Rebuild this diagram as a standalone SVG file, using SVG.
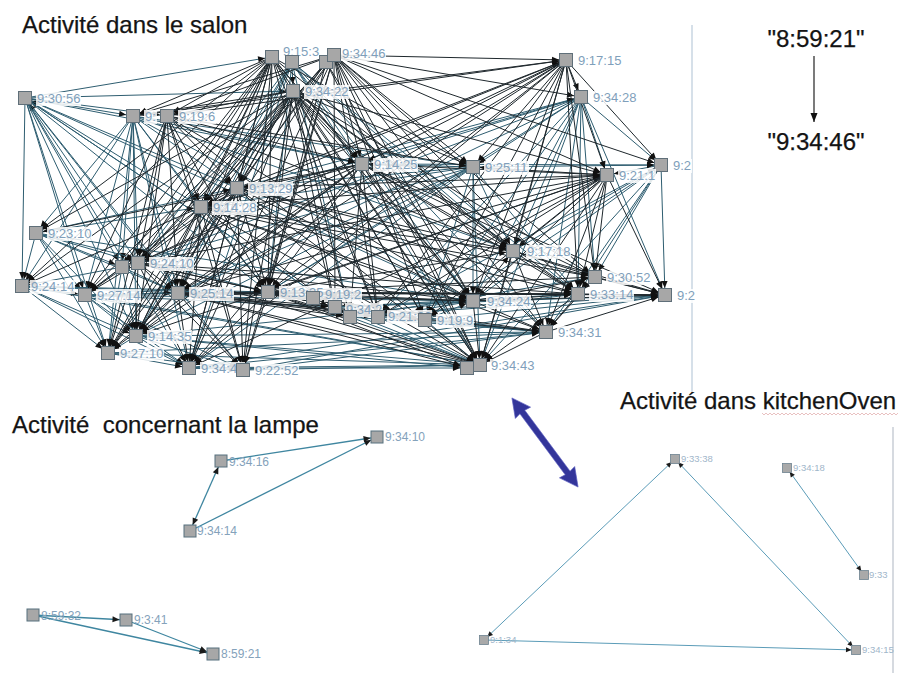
<svg xmlns="http://www.w3.org/2000/svg" width="898" height="673" viewBox="0 0 898 673">
<defs>
<style>
.t{font-family:"Liberation Sans",Arial,sans-serif;font-size:24px;fill:#141414;stroke:#141414;stroke-width:.25}
.lb{font-family:"Liberation Sans",Arial,sans-serif;font-size:13px;fill:#7f9fbb}
.ll{font-family:"Liberation Sans",Arial,sans-serif;font-size:12px;fill:#84a2bb}
.kl{font-family:"Liberation Sans",Arial,sans-serif;font-size:9.5px;fill:#9fb6ca}
.bg{fill:#fff;fill-opacity:.85}
.s{fill:#a7a7a7;stroke:#5f6f79;stroke-width:1}
.sl{fill:#a7a7a7;stroke:#56707e;stroke-width:1}
.sk{fill:#a9a9a9;stroke:#6d8290;stroke-width:.8}
.e path{fill:none;stroke-width:1;marker-end:url(#ah)}
.e1 path{stroke:#1e272c}
.e2 path{stroke:#2e5d70}
.le path{fill:none;stroke:#3f86a0;stroke-width:1.3;marker-end:url(#al)}
.ke path{fill:none;stroke:#5b9cb8;stroke-width:1;marker-end:url(#ak)}
</style>
<marker id="ah" markerUnits="userSpaceOnUse" markerWidth="16" markerHeight="8" viewBox="0 0 16 8" refX="15" refY="4" orient="auto"><path d="M1 1L8 4L1 7z" fill="#111"/></marker>
<marker id="al" markerUnits="userSpaceOnUse" markerWidth="15" markerHeight="8" viewBox="0 0 15 8" refX="14.5" refY="4" orient="auto-start-reverse"><path d="M1 1L8 4L1 7z" fill="#1a1a1a"/></marker>
<marker id="ak" markerUnits="userSpaceOnUse" markerWidth="11" markerHeight="7" viewBox="0 0 11 7" refX="10.5" refY="3.5" orient="auto-start-reverse"><path d="M0.5 1L6 3.5L0.5 6z" fill="#1a1a1a"/></marker>
<marker id="ab" markerUnits="userSpaceOnUse" markerWidth="9" markerHeight="8" viewBox="0 0 9 8" refX="9" refY="4" orient="auto"><path d="M0 0.5L9 4L0 7.5z" fill="#111"/></marker>
</defs>
<rect width="898" height="673" fill="#fff"/>

<!-- frame lines -->
<line x1="692" y1="25" x2="692" y2="392" stroke="#c9d6e2" stroke-width="1.5"/>
<line x1="893" y1="427" x2="893" y2="673" stroke="#c9ced6" stroke-width="1.5"/>

<!-- titles -->
<text class="t" x="22" y="33">Activité dans le salon</text>
<text class="t" x="12" y="433" style="white-space:pre">Activité  concernant la lampe</text>
<text class="t" x="620" y="409">Activité dans kitchenOven</text>
<path d="M762 413l2 2 2-2 2 2 2-2 2 2 2-2 2 2 2-2 2 2 2-2 2 2 2-2 2 2 2-2 2 2 2-2 2 2 2-2 2 2 2-2 2 2 2-2 2 2 2-2 2 2 2-2 2 2 2-2 2 2 2-2 2 2 2-2 2 2 2-2 2 2 2-2 2 2 2-2 2 2 2-2 2 2 2-2 2 2 2-2 2 2 2-2 2 2 2-2 2 2 2-2 2 2 2-2 2 2 2-2 2 2 2-2 2 2 2-2 2 2 2-2 2 2 2-2 2 2 2-2 2 2 2-2 2 2 2-2 2 2 2-2 2 2 2-2" fill="none" stroke="#e3b2b2" stroke-width=".8"/>

<!-- legend -->
<g id="legend">
<text class="t" x="816" y="47" text-anchor="middle">"8:59:21"</text>
<line x1="814" y1="56" x2="814" y2="122" stroke="#222" stroke-width="1.2" marker-end="url(#ab)"/>
<text class="t" x="816" y="150" text-anchor="middle">"9:34:46"</text>
</g>

<!-- blue double arrow -->
<polygon id="blue-arrow" transform="translate(545 442.5) rotate(53.4)" points="-55.5,0 -37,-9.5 -38,-3 38,-3 37,-9.5 55.5,0 37,9.5 38,3 -38,3 -37,9.5" fill="#33359a" stroke="#5a5cc0" stroke-width=".6"/>

<!-- salon connectors -->
<g id="edges-salon" class="e">
<g class="e2">
<path d="M25 98L272 57"/><path d="M25 98L293 91"/><path d="M25 98L133 116"/><path d="M25 98L167 116"/><path d="M25 98L22 286"/><path d="M201 207L25 98"/><path d="M237 188L25 98"/><path d="M25 98L178 293"/><path d="M25 98L268 292"/><path d="M138 263L25 98"/><path d="M25 98L85 295"/><path d="M25 98L136 336"/><path d="M25 98L108 353"/><path d="M25 98L189 368"/><path d="M25 98L362 164"/><path d="M25 98L350 317"/><path d="M25 98L122 267"/><path d="M25 98L243 370"/><path d="M25 98L335 307"/><path d="M25 98L473 301"/>
<path d="M292 62L293 91"/><path d="M292 62L201 207"/><path d="M292 62L237 188"/><path d="M292 62L138 263"/><path d="M292 62L178 293"/><path d="M292 62L268 292"/><path d="M292 62L350 317"/><path d="M292 62L473 301"/><path d="M292 62L480 365"/><path d="M292 62L136 336"/><path d="M292 62L189 368"/><path d="M292 62L362 164"/><path d="M292 62L513 251"/><path d="M292 62L546 332"/><path d="M292 62L578 294"/>
<path d="M581 97L661 165"/><path d="M581 97L607 175"/><path d="M581 97L595 277"/><path d="M581 97L578 294"/><path d="M581 97L665 295"/><path d="M581 97L513 251"/><path d="M581 97L473 301"/><path d="M362 164L581 97"/><path d="M237 188L581 97"/><path d="M201 207L581 97"/><path d="M581 97L473 167"/><path d="M581 97L268 292"/><path d="M581 97L178 293"/><path d="M581 97L138 263"/><path d="M581 97L480 365"/><path d="M581 97L546 332"/><path d="M581 97L425 320"/><path d="M581 97L378 317"/>
<path d="M661 165L607 175"/><path d="M661 165L595 277"/><path d="M661 165L578 294"/><path d="M661 165L665 295"/><path d="M513 251L661 165"/><path d="M661 165L473 301"/><path d="M473 167L661 165"/><path d="M661 165L480 365"/><path d="M661 165L546 332"/><path d="M362 164L661 165"/><path d="M661 165L425 320"/><path d="M661 165L378 317"/>
<path d="M473 167L473 301"/><path d="M473 167L362 164"/><path d="M473 167L237 188"/><path d="M473 167L201 207"/><path d="M473 167L178 293"/><path d="M473 167L268 292"/><path d="M473 167L138 263"/><path d="M473 167L513 251"/><path d="M473 167L480 365"/><path d="M473 167L425 320"/><path d="M473 167L136 336"/><path d="M473 167L189 368"/><path d="M473 167L578 294"/>
<path d="M133 116L201 207"/><path d="M133 116L237 188"/><path d="M133 116L138 263"/><path d="M133 116L122 267"/><path d="M133 116L178 293"/><path d="M133 116L268 292"/><path d="M133 116L85 295"/><path d="M133 116L362 164"/><path d="M133 116L473 167"/><path d="M133 116L136 336"/><path d="M133 116L108 353"/><path d="M133 116L189 368"/><path d="M133 116L473 301"/><path d="M133 116L22 286"/><path d="M133 116L36 233"/><path d="M133 116L513 251"/>
<path d="M36 233L138 263"/><path d="M36 233L122 267"/><path d="M36 233L22 286"/><path d="M36 233L85 295"/><path d="M36 233L268 292"/><path d="M36 233L178 293"/><path d="M36 233L473 301"/><path d="M36 233L136 336"/><path d="M36 233L108 353"/><path d="M36 233L201 207"/><path d="M36 233L237 188"/>
<path d="M122 267L22 286"/><path d="M122 267L85 295"/><path d="M122 267L136 336"/><path d="M122 267L178 293"/><path d="M122 267L108 353"/>
<path d="M22 286L85 295"/><path d="M22 286L136 336"/><path d="M22 286L108 353"/><path d="M22 286L189 368"/><path d="M22 286L178 293"/><path d="M22 286L268 292"/><path d="M22 286L480 365"/><path d="M22 286L473 301"/>
<path d="M85 295L178 293"/><path d="M85 295L268 292"/><path d="M85 295L136 336"/><path d="M85 295L108 353"/><path d="M85 295L189 368"/><path d="M85 295L243 370"/><path d="M85 295L473 301"/><path d="M85 295L480 365"/><path d="M85 295L335 307"/>
<path d="M335 307L473 301"/><path d="M335 307L480 365"/><path d="M335 307L578 294"/><path d="M335 307L665 295"/><path d="M335 307L546 332"/>
<path d="M350 317L480 365"/><path d="M350 317L546 332"/><path d="M350 317L665 295"/><path d="M350 317L595 277"/>
<path d="M378 317L473 301"/><path d="M378 317L480 365"/><path d="M378 317L578 294"/><path d="M378 317L546 332"/>
<path d="M425 320L473 301"/><path d="M425 320L480 365"/><path d="M425 320L665 295"/><path d="M425 320L546 332"/>
<path d="M136 336L108 353"/><path d="M136 336L189 368"/><path d="M136 336L243 370"/><path d="M136 336L480 365"/><path d="M136 336L473 301"/><path d="M136 336L546 332"/><path d="M136 336L467 368"/>
<path d="M108 353L189 368"/><path d="M108 353L243 370"/><path d="M108 353L480 365"/><path d="M108 353L546 332"/>
<path d="M189 368L243 370"/><path d="M189 368L480 365"/><path d="M189 368L546 332"/><path d="M189 368L665 295"/><path d="M189 368L467 368"/>
<path d="M243 370L480 365"/><path d="M243 370L546 332"/><path d="M243 370L665 295"/>
</g>
<g class="e1">
<path d="M272 57L133 116"/><path d="M272 57L167 116"/><path d="M272 57L201 207"/><path d="M272 57L237 188"/><path d="M272 57L138 263"/><path d="M272 57L178 293"/><path d="M272 57L268 292"/><path d="M272 57L335 307"/><path d="M272 57L378 317"/><path d="M272 57L136 336"/><path d="M272 57L108 353"/><path d="M272 57L189 368"/><path d="M272 57L243 370"/><path d="M272 57L85 295"/><path d="M272 57L36 233"/><path d="M272 57L22 286"/><path d="M272 57L362 164"/><path d="M272 57L473 167"/><path d="M272 57L473 301"/><path d="M272 57L480 365"/><path d="M272 57L513 251"/><path d="M272 57L122 267"/><path d="M272 57L425 320"/>
<path d="M326 62L201 207"/><path d="M326 62L268 292"/><path d="M326 62L473 301"/><path d="M326 62L136 336"/><path d="M326 62L480 365"/>
<path d="M334 55L566 60"/><path d="M334 55L581 97"/><path d="M334 55L607 175"/><path d="M334 55L473 167"/><path d="M334 55L362 164"/><path d="M334 55L237 188"/><path d="M334 55L201 207"/><path d="M334 55L138 263"/><path d="M334 55L178 293"/><path d="M334 55L268 292"/><path d="M334 55L335 307"/><path d="M334 55L425 320"/><path d="M334 55L473 301"/><path d="M334 55L513 251"/><path d="M334 55L595 277"/><path d="M334 55L578 294"/><path d="M334 55L480 365"/><path d="M334 55L546 332"/><path d="M334 55L189 368"/><path d="M334 55L243 370"/><path d="M334 55L378 317"/><path d="M334 55L133 116"/><path d="M334 55L167 116"/><path d="M334 55L661 165"/>
<path d="M293 91L133 116"/><path d="M293 91L167 116"/><path d="M293 91L201 207"/><path d="M293 91L237 188"/><path d="M293 91L138 263"/><path d="M293 91L122 267"/><path d="M293 91L178 293"/><path d="M293 91L268 292"/><path d="M293 91L335 307"/><path d="M293 91L350 317"/><path d="M293 91L378 317"/><path d="M293 91L425 320"/><path d="M293 91L473 301"/><path d="M293 91L513 251"/><path d="M293 91L595 277"/><path d="M293 91L578 294"/><path d="M293 91L546 332"/><path d="M293 91L480 365"/><path d="M293 91L136 336"/><path d="M293 91L108 353"/><path d="M293 91L189 368"/><path d="M293 91L243 370"/><path d="M293 91L85 295"/><path d="M293 91L22 286"/><path d="M293 91L36 233"/><path d="M293 91L362 164"/><path d="M293 91L473 167"/><path d="M293 91L607 175"/>
<path d="M566 60L581 97"/><path d="M566 60L661 165"/><path d="M566 60L607 175"/><path d="M566 60L362 164"/><path d="M237 188L566 60"/><path d="M201 207L566 60"/><path d="M167 116L566 60"/><path d="M133 116L566 60"/><path d="M566 60L138 263"/><path d="M566 60L178 293"/><path d="M566 60L268 292"/><path d="M566 60L473 167"/><path d="M566 60L513 251"/><path d="M566 60L473 301"/><path d="M566 60L378 317"/><path d="M566 60L425 320"/><path d="M566 60L595 277"/><path d="M566 60L578 294"/><path d="M566 60L480 365"/><path d="M566 60L136 336"/><path d="M566 60L189 368"/>
<path d="M607 175L473 167"/><path d="M362 164L607 175"/><path d="M237 188L607 175"/><path d="M201 207L607 175"/><path d="M178 293L607 175"/><path d="M268 292L607 175"/><path d="M138 263L607 175"/><path d="M607 175L595 277"/><path d="M607 175L578 294"/><path d="M607 175L513 251"/><path d="M607 175L473 301"/><path d="M607 175L480 365"/><path d="M607 175L546 332"/><path d="M607 175L425 320"/><path d="M607 175L378 317"/><path d="M607 175L350 317"/><path d="M607 175L665 295"/><path d="M607 175L189 368"/><path d="M607 175L136 336"/>
<path d="M362 164L237 188"/><path d="M362 164L201 207"/><path d="M362 164L178 293"/><path d="M362 164L268 292"/><path d="M362 164L138 263"/><path d="M362 164L513 251"/><path d="M362 164L473 301"/><path d="M362 164L480 365"/><path d="M362 164L595 277"/><path d="M362 164L578 294"/><path d="M362 164L378 317"/><path d="M362 164L350 317"/><path d="M362 164L136 336"/><path d="M362 164L108 353"/><path d="M362 164L189 368"/><path d="M362 164L36 233"/><path d="M362 164L665 295"/>
<path d="M237 188L201 207"/><path d="M237 188L138 263"/><path d="M237 188L178 293"/><path d="M237 188L268 292"/><path d="M237 188L473 301"/><path d="M237 188L513 251"/><path d="M237 188L480 365"/><path d="M237 188L578 294"/><path d="M237 188L136 336"/><path d="M237 188L189 368"/><path d="M237 188L243 370"/><path d="M237 188L378 317"/><path d="M237 188L85 295"/><path d="M237 188L108 353"/><path d="M237 188L665 295"/>
<path d="M201 207L138 263"/><path d="M201 207L178 293"/><path d="M201 207L268 292"/><path d="M201 207L335 307"/><path d="M201 207L473 301"/><path d="M201 207L513 251"/><path d="M201 207L480 365"/><path d="M201 207L595 277"/><path d="M201 207L578 294"/><path d="M201 207L85 295"/><path d="M201 207L136 336"/><path d="M201 207L108 353"/><path d="M201 207L189 368"/><path d="M201 207L243 370"/><path d="M201 207L22 286"/><path d="M201 207L546 332"/>
<path d="M167 116L201 207"/><path d="M167 116L237 188"/><path d="M167 116L138 263"/><path d="M167 116L178 293"/><path d="M167 116L268 292"/><path d="M167 116L85 295"/><path d="M167 116L362 164"/><path d="M167 116L473 167"/><path d="M167 116L136 336"/><path d="M167 116L108 353"/><path d="M167 116L243 370"/><path d="M167 116L473 301"/><path d="M167 116L513 251"/><path d="M167 116L480 365"/>
<path d="M138 263L178 293"/><path d="M138 263L268 292"/><path d="M138 263L85 295"/><path d="M138 263L136 336"/><path d="M138 263L108 353"/><path d="M138 263L189 368"/><path d="M138 263L243 370"/><path d="M138 263L473 301"/><path d="M138 263L480 365"/><path d="M138 263L578 294"/><path d="M138 263L335 307"/>
<path d="M178 293L268 292"/><path d="M178 293L473 301"/><path d="M178 293L480 365"/><path d="M178 293L578 294"/><path d="M178 293L665 295"/><path d="M178 293L136 336"/><path d="M178 293L108 353"/><path d="M178 293L189 368"/><path d="M178 293L243 370"/><path d="M178 293L335 307"/><path d="M178 293L350 317"/><path d="M178 293L378 317"/><path d="M178 293L425 320"/><path d="M178 293L546 332"/><path d="M178 293L467 368"/>
<path d="M268 292L473 301"/><path d="M268 292L480 365"/><path d="M268 292L578 294"/><path d="M268 292L665 295"/><path d="M268 292L595 277"/><path d="M268 292L189 368"/><path d="M268 292L243 370"/><path d="M268 292L335 307"/><path d="M268 292L350 317"/><path d="M268 292L378 317"/><path d="M268 292L425 320"/><path d="M268 292L546 332"/><path d="M268 292L513 251"/><path d="M268 292L467 368"/>
<path d="M473 301L578 294"/><path d="M473 301L665 295"/><path d="M473 301L595 277"/><path d="M473 301L546 332"/><path d="M473 301L480 365"/><path d="M473 301L513 251"/>
<path d="M513 251L595 277"/><path d="M513 251L578 294"/><path d="M513 251L665 295"/><path d="M513 251L546 332"/><path d="M513 251L480 365"/>
<path d="M595 277L665 295"/><path d="M595 277L578 294"/><path d="M595 277L546 332"/>
<path d="M578 294L665 295"/><path d="M578 294L546 332"/><path d="M578 294L480 365"/>
<path d="M546 332L480 365"/><path d="M546 332L665 295"/>
</g>
</g>

<!-- salon nodes -->
<g id="n-93056"><rect class="s" x="18.5" y="91.5" width="13" height="13"/><rect class="bg" x="36" y="92" width="45" height="14"/><text class="lb" x="37" y="103">9:30:56</text></g>
<g id="n-9a"><rect class="s" x="126.5" y="109.5" width="13" height="13"/><rect class="bg" x="144" y="110" width="13" height="14"/><text class="lb" x="145" y="121">9:</text></g>
<g id="n-9196"><rect class="s" x="160.5" y="109.5" width="13" height="13"/><rect class="bg" x="178" y="110" width="38" height="14"/><text class="lb" x="179" y="121">9:19:6</text></g>
<g id="n-9153"><rect class="s" x="265.5" y="50.5" width="13" height="13"/><rect class="bg" x="282" y="45" width="38" height="14"/><text class="lb" x="283" y="56">9:15:3</text></g>
<g id="n-e"><rect class="s" x="285.5" y="55.5" width="13" height="13"/></g>
<g id="n-f"><rect class="s" x="319.5" y="55.5" width="13" height="13"/></g>
<g id="n-93446"><rect class="s" x="327.5" y="48.5" width="13" height="13"/><rect class="bg" x="341" y="47" width="45" height="14"/><text class="lb" x="342" y="58">9:34:46</text></g>
<g id="n-93422"><rect class="s" x="286.5" y="84.5" width="13" height="13"/><rect class="bg" x="304" y="85" width="45" height="14"/><text class="lb" x="305" y="96">9:34:22</text></g>
<g id="n-91715"><rect class="s" x="559.5" y="53.5" width="13" height="13"/><rect class="bg" x="577" y="54" width="45" height="14"/><text class="lb" x="578" y="65">9:17:15</text></g>
<g id="n-93428"><rect class="s" x="574.5" y="90.5" width="13" height="13"/><rect class="bg" x="592" y="91" width="45" height="14"/><text class="lb" x="593" y="102">9:34:28</text></g>
<g id="n-92a"><rect class="s" x="654.5" y="158.5" width="13" height="13"/><rect class="bg" x="672" y="159" width="20" height="14"/><text class="lb" x="673" y="170">9:2</text></g>
<g id="n-9211"><rect class="s" x="600.5" y="168.5" width="13" height="13"/><rect class="bg" x="618" y="169" width="38" height="14"/><text class="lb" x="619" y="180">9:21:1</text></g>
<g id="n-92511"><rect class="s" x="466.5" y="160.5" width="13" height="13"/><rect class="bg" x="484" y="161" width="45" height="14"/><text class="lb" x="485" y="172">9:25:11</text></g>
<g id="n-91425"><rect class="s" x="355.5" y="157.5" width="13" height="13"/><rect class="bg" x="373" y="158" width="45" height="14"/><text class="lb" x="374" y="169">9:14:25</text></g>
<g id="n-91329"><rect class="s" x="230.5" y="181.5" width="13" height="13"/><rect class="bg" x="248" y="182" width="45" height="14"/><text class="lb" x="249" y="193">9:13:29</text></g>
<g id="n-91428"><rect class="s" x="194.5" y="200.5" width="13" height="13"/><rect class="bg" x="212" y="201" width="45" height="14"/><text class="lb" x="213" y="212">9:14:28</text></g>
<g id="n-92310"><rect class="s" x="29.5" y="226.5" width="13" height="13"/><rect class="bg" x="47" y="227" width="45" height="14"/><text class="lb" x="48" y="238">9:23:10</text></g>
<g id="n-r"><rect class="s" x="115.5" y="260.5" width="13" height="13"/></g>
<g id="n-92410"><rect class="s" x="131.5" y="256.5" width="13" height="13"/><rect class="bg" x="149" y="257" width="45" height="14"/><text class="lb" x="150" y="268">9:24:10</text></g>
<g id="n-92414"><rect class="s" x="15.5" y="279.5" width="13" height="13"/><rect class="bg" x="30" y="280" width="45" height="14"/><text class="lb" x="31" y="291">9:24:14</text></g>
<g id="n-92714"><rect class="s" x="78.5" y="288.5" width="13" height="13"/><rect class="bg" x="96" y="289" width="45" height="14"/><text class="lb" x="97" y="300">9:27:14</text></g>
<g id="n-92514"><rect class="s" x="171.5" y="286.5" width="13" height="13"/><rect class="bg" x="189" y="287" width="45" height="14"/><text class="lb" x="190" y="298">9:25:14</text></g>
<g id="n-91335"><rect class="s" x="261.5" y="285.5" width="13" height="13"/><rect class="bg" x="279" y="286" width="45" height="14"/><text class="lb" x="280" y="297">9:13:35</text></g>
<g id="n-9192"><rect class="s" x="306.5" y="291.5" width="13" height="13"/><rect class="bg" x="324" y="288" width="38" height="14"/><text class="lb" x="325" y="299">9:19:2</text></g>
<g id="n-9342"><rect class="s" x="328.5" y="300.5" width="13" height="13"/><rect class="bg" x="345" y="303" width="38" height="14"/><text class="lb" x="346" y="314">9:34:2</text></g>
<g id="n-y"><rect class="s" x="343.5" y="310.5" width="13" height="13"/></g>
<g id="n-92130"><rect class="s" x="371.5" y="310.5" width="13" height="13"/><rect class="bg" x="387" y="310" width="45" height="14"/><text class="lb" x="388" y="321">9:21:30</text></g>
<g id="n-9199"><rect class="s" x="418.5" y="313.5" width="13" height="13"/><rect class="bg" x="436" y="314" width="38" height="14"/><text class="lb" x="437" y="325">9:19:9</text></g>
<g id="n-93424"><rect class="s" x="466.5" y="294.5" width="13" height="13"/><rect class="bg" x="486" y="295" width="45" height="14"/><text class="lb" x="487" y="306">9:34:24</text></g>
<g id="n-91718"><rect class="s" x="506.5" y="244.5" width="13" height="13"/><rect class="bg" x="526" y="245" width="45" height="14"/><text class="lb" x="527" y="256">9:17:18</text></g>
<g id="n-93052"><rect class="s" x="588.5" y="270.5" width="13" height="13"/><rect class="bg" x="606" y="271" width="45" height="14"/><text class="lb" x="607" y="282">9:30:52</text></g>
<g id="n-93314"><rect class="s" x="571.5" y="287.5" width="13" height="13"/><rect class="bg" x="589" y="288" width="45" height="14"/><text class="lb" x="590" y="299">9:33:14</text></g>
<g id="n-92b"><rect class="s" x="658.5" y="288.5" width="13" height="13"/><rect class="bg" x="676" y="289" width="20" height="14"/><text class="lb" x="677" y="300">9:2</text></g>
<g id="n-93431"><rect class="s" x="539.5" y="325.5" width="13" height="13"/><rect class="bg" x="557" y="326" width="45" height="14"/><text class="lb" x="558" y="337">9:34:31</text></g>
<g id="n-h2"><rect class="s" x="460.5" y="361.5" width="13" height="13"/></g>
<g id="n-93443"><rect class="s" x="473.5" y="358.5" width="13" height="13"/><rect class="bg" x="490" y="359" width="45" height="14"/><text class="lb" x="491" y="370">9:34:43</text></g>
<g id="n-91435"><rect class="s" x="129.5" y="329.5" width="13" height="13"/><rect class="bg" x="147" y="330" width="45" height="14"/><text class="lb" x="148" y="341">9:14:35</text></g>
<g id="n-92710"><rect class="s" x="101.5" y="346.5" width="13" height="13"/><rect class="bg" x="119" y="347" width="45" height="14"/><text class="lb" x="120" y="358">9:27:10</text></g>
<g id="n-93445"><rect class="s" x="182.5" y="361.5" width="13" height="13"/><rect class="bg" x="200" y="362" width="45" height="14"/><text class="lb" x="201" y="373">9:34:45</text></g>
<g id="n-92252"><rect class="s" x="236.5" y="363.5" width="13" height="13"/><rect class="bg" x="254" y="364" width="45" height="14"/><text class="lb" x="255" y="375">9:22:52</text></g>

<!-- lamp connectors -->
<g id="edges-lamp" class="le">
<path d="M221 461L377 437"/>
<path d="M190 531L377 437"/>
<path d="M190 531L221 461" marker-start="url(#al)"/>
<path d="M33 615L126 620"/>
<path d="M33 615L213 654"/>
<path d="M126 620L213 654"/>
</g>
<g id="l-93410"><rect class="sl" x="371" y="431" width="12" height="12"/><text class="ll" x="385" y="441">9:34:10</text></g>
<g id="l-93416"><rect class="sl" x="215" y="455" width="12" height="12"/><text class="ll" x="229" y="466">9:34:16</text></g>
<g id="l-93414"><rect class="sl" x="184" y="525" width="12" height="12"/><text class="ll" x="197" y="535">9:34:14</text></g>
<g id="l-85932"><rect class="sl" x="27" y="609" width="12" height="12"/><text class="ll" x="41" y="620">8:59:32</text></g>
<g id="l-9341"><rect class="sl" x="120" y="614" width="12" height="12"/><text class="ll" x="134" y="624">9:3:41</text></g>
<g id="l-85921"><rect class="sl" x="207" y="648" width="12" height="12"/><text class="ll" x="221" y="658">8:59:21</text></g>

<!-- kitchenOven connectors -->
<g id="edges-kitchen" class="ke">
<path d="M484 640L675 459" marker-start="url(#ak)"/>
<path d="M675 459L856 650" marker-start="url(#ak)"/>
<path d="M484 640L856 650"/>
<path d="M787 468L864 575" marker-start="url(#ak)"/>
</g>
<g id="k-93338"><rect class="sk" x="670.5" y="454.5" width="9" height="9"/><text class="kl" x="681" y="462">9:33:38</text></g>
<g id="k-93418"><rect class="sk" x="782.5" y="463.5" width="9" height="9"/><text class="kl" x="793" y="471">9:34:18</text></g>
<g id="k-933"><rect class="sk" x="859.5" y="570.5" width="9" height="9"/><text class="kl" x="869" y="578">9:33</text></g>
<g id="k-9134"><rect class="sk" x="479.5" y="635.5" width="9" height="9"/><text class="kl" x="490" y="643">9:1:34</text></g>
<g id="k-93415"><rect class="sk" x="851.5" y="645.5" width="9" height="9"/><text class="kl" x="862" y="653">9:34:15</text></g>
</svg>
